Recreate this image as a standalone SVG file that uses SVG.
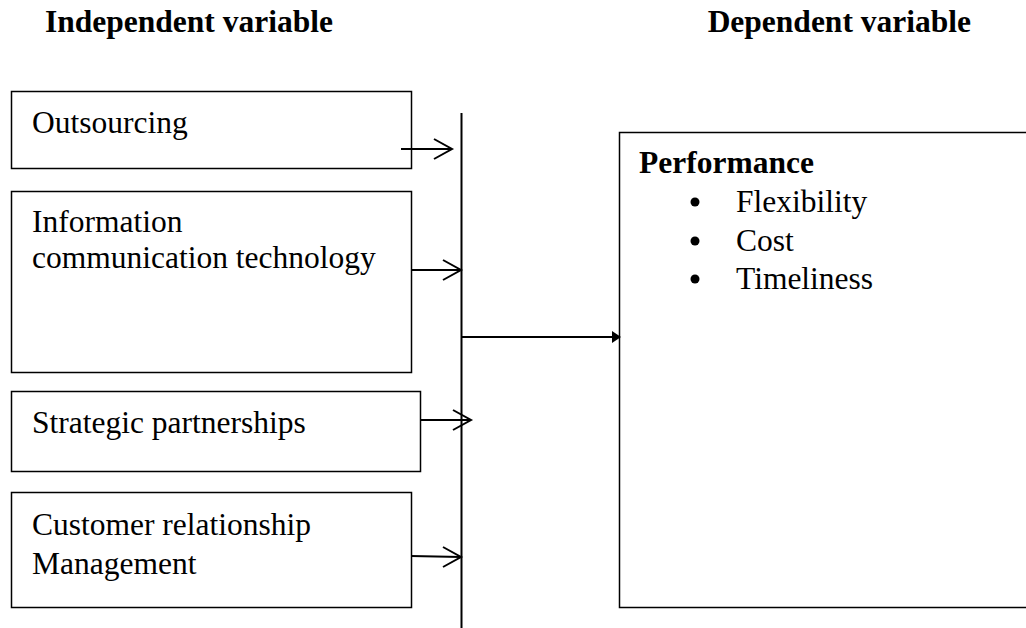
<svg xmlns="http://www.w3.org/2000/svg" width="1026" height="628" viewBox="0 0 1026 628">
  <style>
    .box { fill: #ffffff; stroke: #000000; stroke-width: 1.5; }
    .txt { font-family: "Liberation Serif", "Times New Roman", serif; font-size: 31.5px; fill: #000000; }
    .bold { font-weight: bold; }
    .wire { fill: none; stroke: #000000; stroke-width: 2; }
    .head { fill: none; stroke: #000000; stroke-width: 2; stroke-linejoin: miter; }
  </style>
  <rect width="1026" height="628" fill="#ffffff"/>

  <!-- column headings -->
  <text class="txt bold" x="45" y="32">Independent variable</text>
  <text class="txt bold" x="971" y="32" text-anchor="end">Dependent variable</text>

  <!-- independent variables -->
  <g id="outsourcing">
    <rect class="box" x="11.5" y="91.5" width="400" height="77"/>
    <text class="txt" x="32" y="133">Outsourcing</text>
  </g>
  <g id="ict">
    <rect class="box" x="11.5" y="191.5" width="400" height="181"/>
    <text class="txt" x="32" y="232">Information</text>
    <text class="txt" x="32" y="268">communication technology</text>
  </g>
  <g id="partnerships">
    <rect class="box" x="11.5" y="391.5" width="409" height="80"/>
    <text class="txt" x="32" y="433">Strategic partnerships</text>
  </g>
  <g id="crm">
    <rect class="box" x="11.5" y="492.5" width="400" height="115"/>
    <text class="txt" x="32" y="535">Customer relationship</text>
    <text class="txt" x="32" y="574">Management</text>
  </g>

  <!-- dependent variable -->
  <g id="performance">
    <rect class="box" x="619.5" y="132.5" width="430" height="475"/>
    <text class="txt bold" x="639" y="173">Performance</text>
    <circle cx="695" cy="202" r="4.5" fill="#000000"/>
    <text class="txt" x="736" y="212">Flexibility</text>
    <circle cx="695" cy="241" r="4.5" fill="#000000"/>
    <text class="txt" x="736" y="251">Cost</text>
    <circle cx="695" cy="279" r="4.5" fill="#000000"/>
    <text class="txt" x="736" y="289">Timeliness</text>
  </g>

  <!-- connectors -->
  <g id="connectors">
    <line class="wire" x1="461.5" y1="113" x2="461.5" y2="628" stroke-width="1.5"/>

    <line class="wire" x1="401" y1="149" x2="452" y2="149"/>
    <polyline class="head" points="434,139 452,149 434,159"/>

    <line class="wire" x1="411" y1="270" x2="461" y2="270"/>
    <polyline class="head" points="443,260 461,270 443,280"/>

    <line class="wire" x1="420" y1="420" x2="470" y2="420"/>
    <polyline class="head" points="453,410 471,420 453,430"/>

    <line class="wire" x1="411" y1="556" x2="461" y2="557"/>
    <polyline class="head" points="443,547 461,557 443,567"/>

    <line class="wire" x1="462" y1="337" x2="614" y2="337"/>
    <polygon points="612,331 621,337 612,343" fill="#000000"/>
  </g>
</svg>
